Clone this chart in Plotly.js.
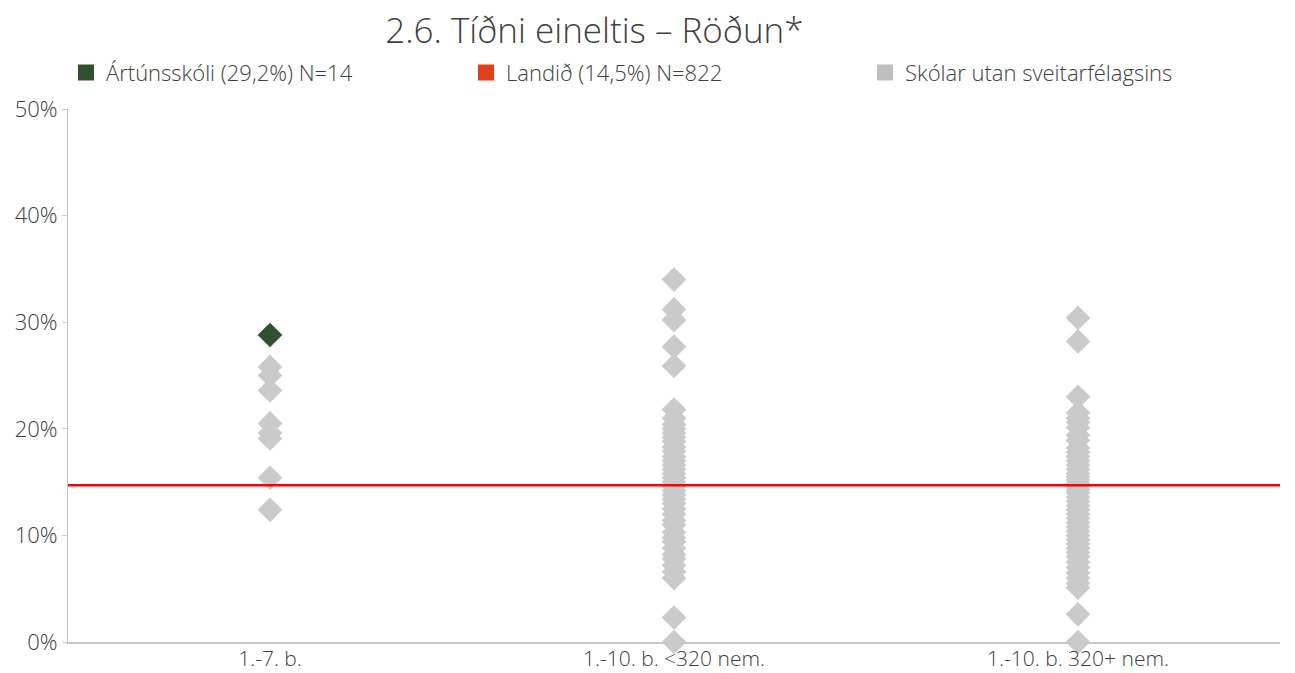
<!DOCTYPE html>
<html>
<head>
<meta charset="utf-8">
<script src="https://cdn.plot.ly/plotly-3.0.1.min.js"></script>
<style>html,body{margin:0;padding:0;background:#fff;}#chart{width:1295px;height:673px;}</style>
</head>
<body>
<div id="chart"></div>
<script>
var categories = ["1.-7. b.", "1.-10. b. <320 nem.", "1.-10. b. 320+ nem."];
var tickVals = [0, 10, 20, 30, 40, 50];
var tickText = ["0%", "10%", "20%", "30%", "40%", "50%"];

var schoolName = "Ártúnsskóli (29,2%) N=14";
var schoolValue = 28.8;
var schoolCategory = "1.-7. b.";

var nationName = "Landið (14,5%) N=822";
var nationValue = 14.7;

var othersName = "Skólar utan sveitarfélagsins";
var others1to7 = [25.8, 25.0, 23.6, 20.5, 19.6, 19.1, 15.4, 12.4];
var othersSmall = [34.0, 31.2, 30.2, 27.7, 25.9, 21.8, 21.0, 20.4, 20.0, 19.6, 19.2, 18.8, 18.3, 17.9, 17.4, 17.0, 16.6, 16.2, 15.8, 15.4, 15.0, 14.6, 14.2, 13.8, 13.4, 13.0, 12.5, 12.0, 11.4, 11.0, 10.3, 9.8, 9.4, 8.8, 8.2, 7.8, 7.2, 6.6, 6.0, 2.3, 0.0];
var othersLarge = [30.4, 28.2, 23.0, 21.5, 21.0, 20.6, 20.1, 19.4, 18.9, 18.2, 17.8, 17.4, 17.0, 16.6, 16.2, 15.8, 15.5, 15.2, 14.9, 14.6, 14.3, 14.0, 13.6, 13.2, 12.8, 12.4, 12.0, 11.6, 11.2, 10.8, 10.4, 10.0, 9.6, 9.2, 8.8, 8.4, 8.0, 7.5, 7.0, 6.5, 6.0, 5.5, 5.1, 2.6, 0.0];

var greyX = [], greyY = [];
[others1to7, othersSmall, othersLarge].forEach(function (arr, i) {
  arr.forEach(function (v) { greyX.push(categories[i]); greyY.push(v); });
});

var FONT = "'Open Sans', sans-serif";
var TXT = "#404040";
var FS = 22;
var FW = 300;

var traces = [
  {type: "scatter", mode: "markers", x: greyX, y: greyY, showlegend: false, cliponaxis: false,
   marker: {symbol: "diamond", size: 19, color: "#CACACA"}, hoverinfo: "y"},
  {type: "scatter", mode: "markers", x: [schoolCategory], y: [schoolValue], showlegend: false, cliponaxis: false,
   marker: {symbol: "diamond", size: 19, color: "#2F5130"}, hoverinfo: "y"},
  {type: "scatter", mode: "markers", x: [null], y: [null], name: schoolName, legend: "legend",
   marker: {symbol: "square", size: 16, color: "#2F5130"}},
  {type: "scatter", mode: "markers", x: [null], y: [null], name: nationName, legend: "legend2",
   marker: {symbol: "square", size: 16, color: "#E0401A"}},
  {type: "scatter", mode: "markers", x: [null], y: [null], name: othersName, legend: "legend3",
   marker: {symbol: "square", size: 16, color: "#BFBFBF"}}
];

function leg(xpx) {
  return {orientation: "h", x: (xpx - 68) / 1212, xanchor: "left", y: 1.068, yanchor: "middle",
          font: {family: FONT, size: FS, color: TXT, weight: FW}, bgcolor: "rgba(0,0,0,0)", itemclick: false};
}

var layout = {
  width: 1295, height: 673,
  margin: {l: 68, r: 15, t: 109, b: 31},
  paper_bgcolor: "#fff", plot_bgcolor: "#fff",
  font: {family: FONT, size: FS, color: TXT, weight: FW},
  title: {text: "2.6. Tíðni eineltis – Röðun*", font: {family: FONT, size: 35, color: TXT, weight: FW},
          x: 0.459, xref: "container", xanchor: "center", y: 0.955, yref: "container", yanchor: "middle"},
  showlegend: true,
  legend: leg(66),
  legend2: leg(466),
  legend3: leg(865),
  xaxis: {type: "category", categoryorder: "array", categoryarray: categories, range: [-0.5, 2.5],
          showgrid: false, zeroline: false, showline: true, linecolor: "#C8C8C8", linewidth: 2,
          ticks: "", ticklabelstandoff: -3, tickfont: {family: FONT, size: 21, color: TXT, weight: FW}, fixedrange: true},
  yaxis: {range: [0, 50], tickvals: tickVals, ticktext: tickText, showgrid: false, zeroline: false,
          showline: true, linecolor: "#C8C8C8", linewidth: 1, ticks: "outside", ticklen: 5, tickcolor: "#C8C8C8",
          tickfont: {family: FONT, size: FS, color: TXT, weight: FW}, fixedrange: true},
  shapes: [{type: "line", xref: "paper", x0: 0, x1: 1, yref: "y", y0: nationValue, y1: nationValue,
            line: {color: "#FF0000", width: 2.5}, layer: "above"}]
};

Plotly.newPlot("chart", traces, layout, {displayModeBar: false, staticPlot: true});
</script>
</body>
</html>
